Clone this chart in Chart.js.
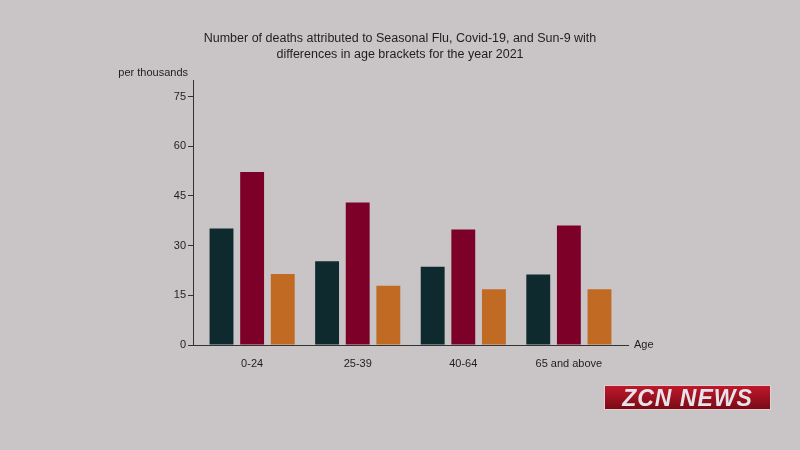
<!DOCTYPE html>
<html><head><meta charset="utf-8">
<script src="https://cdn.jsdelivr.net/npm/chart.js@4"></script>
<style>
html,body{margin:0;padding:0;background:#c9c5c6;}
#wrap{position:relative;width:800px;height:450px;}
#logo{position:absolute;left:604px;top:385px;width:167px;height:25px;background:linear-gradient(#c0182a,#7a0a16);border:1px solid #e0d0d0;box-sizing:border-box;color:#e4e4ea;font:italic bold 23px "Liberation Sans",Arial,sans-serif;line-height:24px;text-align:center;letter-spacing:1px;}
</style></head>
<body><div id="wrap"><canvas id="c" width="800" height="450"></canvas><div id="logo">ZCN NEWS</div></div>
<script>
const categories = ["0-24","25-39","40-64","65 and above"];
const seasonalFlu = [35.2, 25.3, 23.6, 21.3];
const covid19 = [52.2, 43.0, 34.9, 36.1];
const sun9 = [21.4, 17.9, 16.8, 16.8];
const yTicks = [0,15,30,45,60,75];
const titleLines = ["Number of deaths attributed to Seasonal Flu, Covid-19, and Sun-9 with","differences in age brackets for the year 2021"];

const toPts = arr => arr.map((v,i)=>({x:i,y:v}));
const font = '"Liberation Sans", Arial, sans-serif';
const textCol = '#1e1e1e';

const extraText = {
  id:'extraText',
  afterDraw(chart){
    const ctx = chart.ctx, a = chart.chartArea;
    ctx.save();
    ctx.fillStyle = textCol;
    ctx.textBaseline = 'middle';
    ctx.textAlign = 'center';
    ctx.font = '12.5px ' + font;
    titleLines.forEach((t,i)=>ctx.fillText(t, chart.width/2, 39 + i*16));
    ctx.font = '11px ' + font;
    ctx.textAlign = 'right';
    ctx.fillText('per thousands', a.left - 5, a.top - 7);
    ctx.textAlign = 'left';
    ctx.fillText('Age', a.right + 6, a.bottom);
    ctx.restore();
  }
};

new Chart(document.getElementById('c'), {
  type:'bar',
  data:{
    datasets:[
      {label:'Seasonal Flu', data:toPts(seasonalFlu), backgroundColor:'#0e2a2f'},
      {label:'Covid-19', data:toPts(covid19), backgroundColor:'#7c0028'},
      {label:'Sun-9', data:toPts(sun9), backgroundColor:'#c06a24'}
    ]
  },
  options:{
    responsive:false, animation:false,
    layout:{padding:{left:0,right:172,top:80,bottom:0}},
    categoryPercentage:0.87, barPercentage:0.78,
    plugins:{
      legend:{display:false}, tooltip:{enabled:false}, title:{display:false}
    },
    scales:{
      x:{
        type:'linear', min:-0.56, max:3.56, offset:false,
        afterBuildTicks(s){ s.ticks = categories.map((c,i)=>({value:i})); },
        afterFit(s){ s.height = 105; },
        ticks:{callback:(v)=>categories[v], color:textCol, font:{family:font,size:11}, padding:12, maxRotation:0, autoSkip:false},
        grid:{display:true, drawOnChartArea:false, drawTicks:false},
        border:{display:true, color:'#333', width:1}
      },
      y:{
        min:0, max:80,
        afterBuildTicks(s){ s.ticks = yTicks.map(v=>({value:v})); },
        afterFit(s){ s.width = 193; },
        ticks:{color:textCol, font:{family:font,size:11}, padding:2},
        grid:{drawOnChartArea:false, drawTicks:true, tickLength:5, color:'#333'},
        border:{display:true, color:'#333', width:1}
      }
    }
  },
  plugins:[extraText]
});
</script></body></html>
